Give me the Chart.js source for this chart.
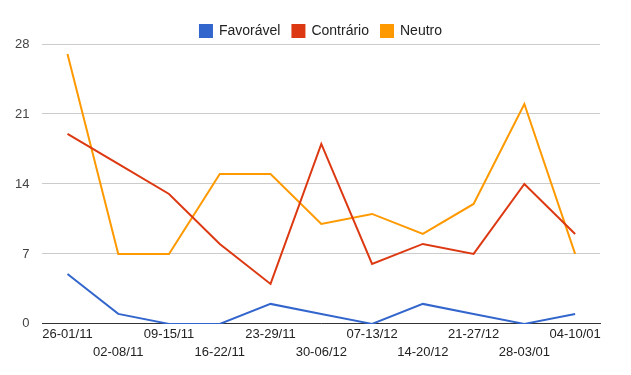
<!DOCTYPE html>
<html>
<head>
<meta charset="utf-8">
<script src="https://cdn.jsdelivr.net/npm/chart.js"></script>
<style>
  body { margin: 0; background: #fff; }
  #caixa { width: 631px; height: 375px; }
</style>
</head>
<body>
<div id="caixa"><canvas id="myChart"></canvas></div>
<script>
var semanas = ['26-01/11', '02-08/11', '09-15/11', '16-22/11', '23-29/11', '30-06/12',
               '07-13/12', '14-20/12', '21-27/12', '28-03/01', '04-10/01']
var favoravel = [5, 1, 0, 0, 2, 1, 0, 2, 1, 0, 1]
var contrario = [19, 16, 13, 8, 4, 18, 6, 8, 7, 14, 9]
var neutro = [27, 7, 7, 15, 15, 10, 11, 9, 12, 22, 7]
var ticksY = [0, 7, 14, 21, 28]

function pontos(lista) {
    return lista.map(function (v, i) { return { x: i, y: v } })
}

Chart.defaults.font.family = 'Arial, "Liberation Sans", sans-serif'
Chart.defaults.font.size = 13

const ctx1 = document.getElementById('myChart').getContext('2d')

// legenda um pouco mais baixa e deslocada para a direita, como no original
var ajusteLegenda = {
    id: 'ajusteLegenda',
    afterInit: function (chart) {
        var fitOriginal = chart.legend.fit
        chart.legend.fit = function () {
            fitOriginal.call(this)
            this.height -= 4
        }
    },
    afterLayout: function (chart) {
        chart.legend.left += 20
        chart.legend.right += 20
    }
}

var data = {
    datasets: [
        { label: 'Favorável', data: pontos(favoravel), borderColor: '#3366cc', backgroundColor: '#3366cc' },
        { label: 'Contrário', data: pontos(contrario), borderColor: '#dc3912', backgroundColor: '#dc3912' },
        { label: 'Neutro', data: pontos(neutro), borderColor: '#ff9900', backgroundColor: '#ff9900' }
    ]
}

var options = {
    responsive: true,
    maintainAspectRatio: false,
    animation: false,
    layout: { padding: { left: 2, right: 31, top: 12, bottom: 12 } },
    elements: {
        line: { borderWidth: 2, tension: 0 },
        point: { radius: 0 }
    },
    plugins: {
        legend: {
            labels: { boxWidth: 12, boxHeight: 12, color: '#222', padding: 12, font: { size: 14 } }
        },
        tooltip: { enabled: false }
    },
    scales: {
        x: {
            type: 'linear',
            min: -0.493,
            max: 10.49,
            afterBuildTicks: function (eixo) {
                eixo.ticks = semanas.map(function (s, i) { return { value: i } })
            },
            ticks: {
                color: '#222',
                maxRotation: 0,
                autoSkip: false,
                padding: 2,
                font: { lineHeight: 1.35 },
                callback: function (v) {
                    var s = semanas[v]
                    return v % 2 == 0 ? [s, ''] : ['', s]
                }
            },
            grid: { display: false, drawTicks: false },
            border: { display: true, color: '#333', width: 1 }
        },
        y: {
            min: 0,
            max: 28,
            afterBuildTicks: function (eixo) {
                eixo.ticks = ticksY.map(function (v) { return { value: v } })
            },
            ticks: { color: '#444', padding: 13 },
            grid: { color: '#cccccc', drawTicks: false },
            border: { display: false }
        }
    }
}

new Chart(ctx1, {
    type: 'line',
    data: data,
    options: options,
    plugins: [ajusteLegenda]
})
</script>
</body>
</html>
